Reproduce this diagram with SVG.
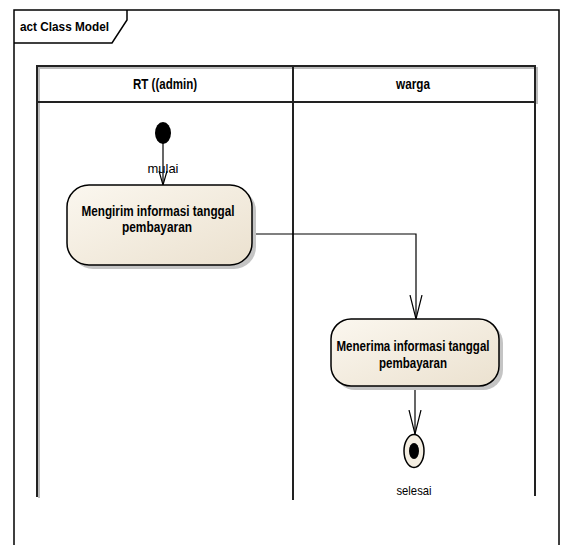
<svg xmlns="http://www.w3.org/2000/svg" width="561" height="545" viewBox="0 0 561 545">
  <defs>
    <linearGradient id="actFill" x1="0" y1="0" x2="1" y2="1">
      <stop offset="0" stop-color="#fbf7ef"/>
      <stop offset="1" stop-color="#ebe1cf"/>
    </linearGradient>
    <marker id="openArrow" viewBox="0 0 24 14" refX="24" refY="7" markerWidth="24" markerHeight="14" markerUnits="userSpaceOnUse" orient="auto">
      <path d="M0,1 L24,7 L0,13" fill="none" stroke="#000" stroke-width="1.2"/>
    </marker>
    <marker id="openArrowSmall" viewBox="0 0 14 10" refX="14" refY="5" markerWidth="14" markerHeight="10" markerUnits="userSpaceOnUse" orient="auto">
      <path d="M0,1 L14,5 L0,9" fill="none" stroke="#000" stroke-width="1.2"/>
    </marker>
    <style>
      .frame { fill: none; stroke: #000; stroke-width: 1.5; }
      .lane { fill: none; stroke: #222; stroke-width: 2; }
      .laneShadow { fill: none; stroke: #bbb; stroke-width: 2; }
      .hdr { font-family: "Liberation Sans", Arial, sans-serif; font-weight: bold; font-size: 14px; fill: #000; text-anchor: middle; }
      .title { font-family: "Liberation Sans", Arial, sans-serif; font-weight: bold; font-size: 13px; fill: #000; }
      .act { fill: url(#actFill); stroke: #000; stroke-width: 1.5; }
      .shadow { fill: #c4c4c4; }
      .lbl { font-family: "Liberation Sans", Arial, sans-serif; font-weight: bold; font-size: 14px; fill: #000; text-anchor: middle; }
      .note { font-family: "Liberation Sans", Arial, sans-serif; font-size: 13px; fill: #000; text-anchor: middle; }
      .flow { fill: none; stroke: #000; stroke-width: 1.2; marker-end: url(#openArrow); }
      .flow.short { marker-end: url(#openArrowSmall); }
    </style>
  </defs>

  <rect width="561" height="545" fill="#fff"/>

  <!-- diagram frame with name tab -->
  <g id="frame">
    <rect class="frame" x="14" y="10" width="545" height="560"/>
    <path class="frame" d="M14,43 L112,43 L127,20 L127,10"/>
    <text class="title" x="20" y="31" textLength="89" lengthAdjust="spacingAndGlyphs">act Class Model</text>
  </g>

  <!-- swimlanes -->
  <g id="lane-rt">
    <path class="laneShadow" d="M39,498 L39,68 L295,68"/>
    <rect class="lane" x="37" y="66" width="256" height="36"/>
    <path class="lane" d="M37,102 L37,497 M293,102 L293,500"/>
    <text class="hdr" x="165" y="89" textLength="64" lengthAdjust="spacingAndGlyphs">RT ((admin)</text>
  </g>
  <g id="lane-warga">
    <path class="laneShadow" d="M295,68 L537,68 L537,104"/>
    <rect class="lane" x="293" y="66" width="242" height="36"/>
    <path class="lane" d="M535,102 L535,496"/>
    <text class="hdr" x="413" y="89" textLength="34" lengthAdjust="spacingAndGlyphs">warga</text>
  </g>

  <!-- connectors -->
  <g id="connectors">
    <path class="flow short" d="M163,141 L163,185"/>
    <path class="flow" d="M252,234 L416,234 L416,319"/>
    <path class="flow" d="M415,386 L415,434"/>
  </g>

  <!-- start node -->
  <g id="start">
    <ellipse cx="163" cy="133" rx="8" ry="11" fill="#000"/>
    <text class="note" x="163" y="173" textLength="31" lengthAdjust="spacingAndGlyphs">mulai</text>
  </g>

  <!-- action: send payment date information -->
  <g id="act-kirim">
    <rect class="shadow" x="71" y="189" width="185" height="80" rx="22" ry="22"/>
    <rect class="act" x="67" y="185" width="185" height="80" rx="22" ry="22"/>
    <text class="lbl" x="158" y="216" textLength="153" lengthAdjust="spacingAndGlyphs">Mengirim informasi tanggal</text>
    <text class="lbl" x="157" y="232" textLength="70" lengthAdjust="spacingAndGlyphs">pembayaran</text>
  </g>

  <!-- action: receive payment date information -->
  <g id="act-terima">
    <rect class="shadow" x="335" y="323" width="168" height="67" rx="20" ry="20"/>
    <rect class="act" x="331" y="319" width="168" height="67" rx="20" ry="20"/>
    <text class="lbl" x="413" y="351" textLength="153" lengthAdjust="spacingAndGlyphs">Menerima informasi tanggal</text>
    <text class="lbl" x="413" y="368" textLength="68" lengthAdjust="spacingAndGlyphs">pembayaran</text>
  </g>

  <!-- final node -->
  <g id="final">
    <ellipse cx="414" cy="451" rx="10" ry="16.5" fill="#f4eee2" stroke="#000" stroke-width="1.5"/>
    <ellipse cx="414" cy="451" rx="5" ry="8" fill="#000"/>
    <text class="note" x="414" y="495" textLength="35" lengthAdjust="spacingAndGlyphs">selesai</text>
  </g>
</svg>
